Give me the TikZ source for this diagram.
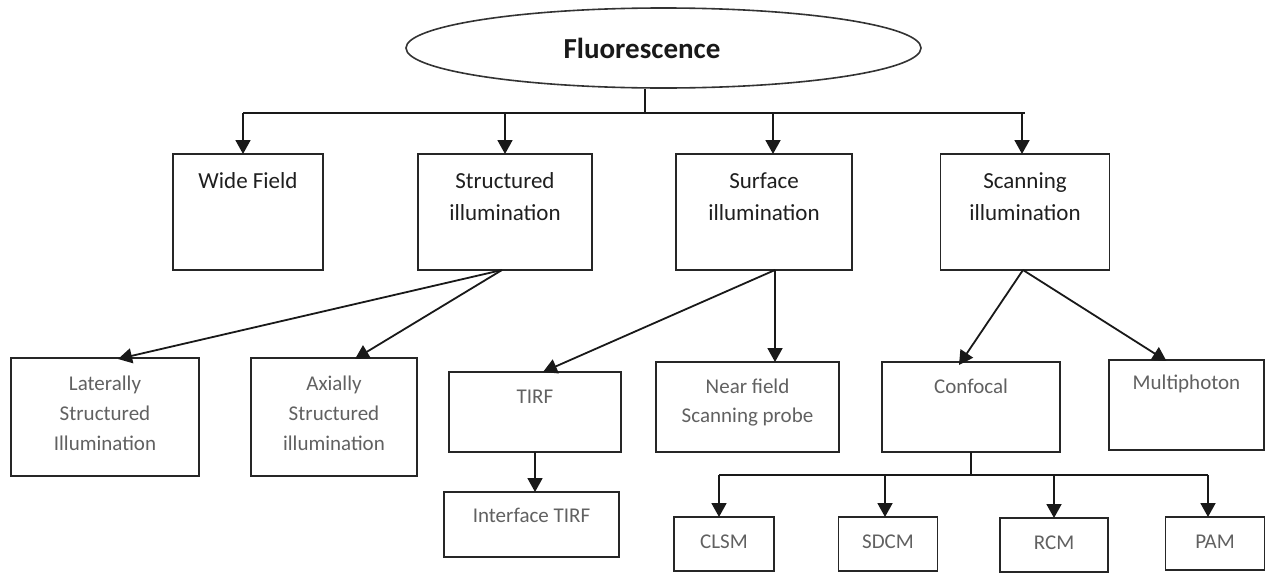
\documentclass[tikz,border=0pt]{standalone}
\usepackage{fontspec}
\setmainfont{Carlito}
\usetikzlibrary{arrows.meta,shapes.geometric}
\newcommand{\bxt}[4]{\parbox[t][#2][t]{#1}{\centering\rule{0pt}{#3}#4}}
\begin{document}
\begin{tikzpicture}[x=1pt,y=-1pt,
  box/.style={draw=black!85, line width=1.7pt, rectangle, inner sep=0pt, outer sep=0pt},
  toptext/.style={font=\fontsize{23}{32}\selectfont, text=black!88},
  lowtext/.style={font=\fontsize{21}{30}\selectfont, text=black!62},
  conn/.style={draw=black!90, line width=1.8pt},
  arr/.style={conn, -{Triangle[length=14pt,width=15pt]}}]
\useasboundingbox (0,0) rectangle (1268,573);
\fill[white] (0,0) rectangle (1268,573);

% root
\node[ellipse, draw=black!80, line width=1.6pt, minimum width=515pt, minimum height=80pt, inner sep=0pt,
      font=\fontsize{29}{34}\selectfont\bfseries, text=black!90] (root) at (663.5,48) {Fluorescence\hspace*{43pt}};

% second row
\node[box, toptext] (wide)   at (248,212)    {\bxt{150pt}{116pt}{34pt}{Wide Field}};
\node[box, toptext] (struct) at (505,212)    {\bxt{174pt}{116pt}{34pt}{Structured\\illumination}};
\node[box, toptext] (surf)   at (764,212)    {\bxt{176pt}{116pt}{34pt}{Surface\\illumination}};
\node[box, toptext] (scan)   at (1025,212)   {\bxt{169pt}{116pt}{34pt}{Scanning\\illumination}};

% third row
\node[box, lowtext] (lat)   at (105,417)    {\bxt{188pt}{118pt}{32pt}{Laterally\\Structured\\Illumination}};
\node[box, lowtext] (ax)    at (334,417)    {\bxt{166pt}{118pt}{32pt}{Axially\\Structured\\illumination}};
\node[box, lowtext] (tirf)  at (535,412)    {\bxt{172pt}{80pt}{31pt}{TIRF}};
\node[box, lowtext, font=\fontsize{21}{29}\selectfont] (near) at (747.5,407) {\bxt{183pt}{90pt}{31pt}{Near field\\Scanning probe}};
\node[box, lowtext] (conf)  at (971,407)    {\bxt{178pt}{90pt}{31pt}{Confocal}};
\node[box, lowtext] (multi) at (1186.5,405) {\bxt{155pt}{90pt}{29pt}{Multiphoton}};

% fourth row
\node[box, lowtext] (iface) at (531.5,524.5) {\bxt{175pt}{65pt}{30pt}{Interface TIRF}};
\node[box, lowtext] (clsm)  at (724,544)     {\bxt{100pt}{54pt}{31pt}{CLSM}};
\node[box, lowtext] (sdcm)  at (888,544)     {\bxt{99pt}{54pt}{31pt}{SDCM}};
\node[box, lowtext] (rcm)   at (1054,545)    {\bxt{108pt}{54pt}{31pt}{RCM}};
\node[box, lowtext] (pam)   at (1215,543.5)  {\bxt{99pt}{53pt}{31pt}{PAM}};

% root bus
\coordinate (bus) at (645,113);
\draw[conn] (bus |- root.south) -- (bus);
\draw[conn] ([xshift=-5pt]wide.north |- bus) -- (scan.north |- bus);
\draw[arr] ([xshift=-5pt]wide.north |- bus) -- ([xshift=-5pt]wide.north);
\draw[arr] (struct.north |- bus) -- (struct.north);
\draw[arr] ([xshift=9pt]surf.north |- bus) -- ([xshift=9pt]surf.north);
\draw[arr] ([xshift=-3pt]scan.north |- bus) -- ([xshift=-3pt]scan.north);

% structured illumination
\draw[arr] ([xshift=-3pt]struct.south) -- ([xshift=13pt,yshift=-1pt]lat.north);
\draw[arr] ([xshift=-3pt]struct.south) -- ([xshift=21pt,yshift=-1pt]ax.north);

% surface illumination
\coordinate (sp) at ([xshift=11pt]surf.south);
\draw[arr] (sp) -- ([xshift=8pt]tirf.north);
\draw[arr] (sp) -- (sp |- near.north);
\draw[arr] (tirf.south) -- (tirf.south |- iface.north);

% scanning illumination
\draw[arr] ([xshift=-2pt]scan.south) -- ([xshift=-12pt,yshift=-3pt]conf.north);
\draw[arr] ([xshift=-2pt]scan.south) -- ([xshift=-20pt,yshift=-1pt]multi.north);

% confocal bus
\coordinate (cbus) at (971,475);
\draw[conn] (conf.south) -- (cbus);
\draw[conn] ([xshift=-5pt]clsm.north |- cbus) -- ([xshift=-7pt]pam.north |- cbus);
\draw[arr] ([xshift=-5pt]clsm.north |- cbus) -- ([xshift=-5pt]clsm.north);
\draw[arr] ([xshift=-3pt]sdcm.north |- cbus) -- ([xshift=-3pt]sdcm.north);
\draw[arr] (rcm.north |- cbus) -- (rcm.north);
\draw[arr] ([xshift=-7pt]pam.north |- cbus) -- ([xshift=-7pt]pam.north);
\end{tikzpicture}
\end{document}
